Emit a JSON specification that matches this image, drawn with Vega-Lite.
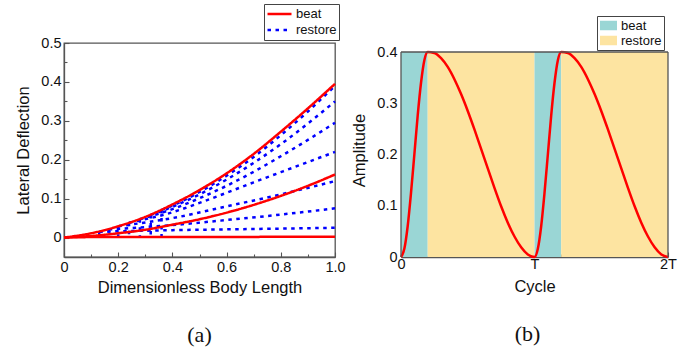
{
  "$schema": "https://vega.github.io/schema/vega-lite/v6.json",
  "background": "white",
  "padding": {"left": 15, "top": 2, "right": 5, "bottom": 5},
  "bounds": "flush",
  "spacing": 66,
  "resolve": {"scale": {"color": "independent", "strokeDash": "independent"}, "legend": {"color": "independent", "strokeDash": "independent"}},
  "config": {
    "font": "Liberation Sans",
    "view": {"stroke": "#555", "strokeWidth": 1.3},
    "axis": {"grid": false, "domainColor": "#555", "domainWidth": 1.3, "tickColor": "#555", "tickWidth": 1.1, "labelColor": "#111", "titleColor": "#111", "labelFontSize": 14.5, "titleFontSize": 16.5, "titleFontWeight": "normal", "labelFlush": false, "labelOverlap": false},
    "title": {"font": "Liberation Serif", "fontSize": 22, "fontWeight": "normal", "color": "#111"}
  },
  "hconcat": [
    {
      "width": 271,
      "height": 214,
      "title": {"text": "(a)", "orient": "bottom", "offset": 29},
      "layer": [
        {
          "data": {"values": [
            {"s": 0.13, "T": 0.015}, {"s": 0.165, "T": 0.021}, {"s": 0.2, "T": 0.029}, {"s": 0.24, "T": 0.038},
            {"s": 0.28, "T": 0.047}, {"s": 0.32, "T": 0.058}, {"s": 0.36, "T": 0.071}
          ]},
          "mark": {"type": "rule", "color": "#0000ff", "strokeWidth": 2.5, "strokeDash": [3.5, 4.5]},
          "encoding": {
            "x": {"field": "s", "type": "quantitative", "axis": null},
            "y": {"field": "T", "type": "quantitative", "axis": null},
            "y2": {"datum": 0}
          }
        },
        {
          "data": {"values": [
            {"id": 1, "type": "restore", "x": 0.13, "y": 0.015}, {"id": 1, "type": "restore", "x": 0.4, "y": 0.019}, {"id": 1, "type": "restore", "x": 0.6, "y": 0.021}, {"id": 1, "type": "restore", "x": 0.8, "y": 0.023}, {"id": 1, "type": "restore", "x": 1.0, "y": 0.025},
            {"id": 2, "type": "restore", "x": 0.165, "y": 0.021}, {"id": 2, "type": "restore", "x": 0.4, "y": 0.032}, {"id": 2, "type": "restore", "x": 0.6, "y": 0.045}, {"id": 2, "type": "restore", "x": 0.8, "y": 0.059}, {"id": 2, "type": "restore", "x": 1.0, "y": 0.075},
            {"id": 3, "type": "restore", "x": 0.2, "y": 0.029}, {"id": 3, "type": "restore", "x": 0.4, "y": 0.05}, {"id": 3, "type": "restore", "x": 0.6, "y": 0.08}, {"id": 3, "type": "restore", "x": 0.8, "y": 0.111}, {"id": 3, "type": "restore", "x": 1.0, "y": 0.145},
            {"id": 4, "type": "restore", "x": 0.24, "y": 0.038}, {"id": 4, "type": "restore", "x": 0.4, "y": 0.065}, {"id": 4, "type": "restore", "x": 0.5, "y": 0.089}, {"id": 4, "type": "restore", "x": 0.6, "y": 0.115}, {"id": 4, "type": "restore", "x": 0.7, "y": 0.142}, {"id": 4, "type": "restore", "x": 0.8, "y": 0.168}, {"id": 4, "type": "restore", "x": 0.9, "y": 0.194}, {"id": 4, "type": "restore", "x": 1.0, "y": 0.22},
            {"id": 5, "type": "restore", "x": 0.28, "y": 0.047}, {"id": 5, "type": "restore", "x": 0.4, "y": 0.073}, {"id": 5, "type": "restore", "x": 0.5, "y": 0.101}, {"id": 5, "type": "restore", "x": 0.6, "y": 0.133}, {"id": 5, "type": "restore", "x": 0.7, "y": 0.169}, {"id": 5, "type": "restore", "x": 0.8, "y": 0.209}, {"id": 5, "type": "restore", "x": 0.9, "y": 0.251}, {"id": 5, "type": "restore", "x": 1.0, "y": 0.295},
            {"id": 6, "type": "restore", "x": 0.32, "y": 0.058}, {"id": 6, "type": "restore", "x": 0.4, "y": 0.079}, {"id": 6, "type": "restore", "x": 0.5, "y": 0.111}, {"id": 6, "type": "restore", "x": 0.6, "y": 0.149}, {"id": 6, "type": "restore", "x": 0.7, "y": 0.192}, {"id": 6, "type": "restore", "x": 0.8, "y": 0.24}, {"id": 6, "type": "restore", "x": 0.9, "y": 0.293}, {"id": 6, "type": "restore", "x": 1.0, "y": 0.35},
            {"id": 7, "type": "restore", "x": 0.36, "y": 0.071}, {"id": 7, "type": "restore", "x": 0.4, "y": 0.082}, {"id": 7, "type": "restore", "x": 0.5, "y": 0.117}, {"id": 7, "type": "restore", "x": 0.6, "y": 0.159}, {"id": 7, "type": "restore", "x": 0.7, "y": 0.207}, {"id": 7, "type": "restore", "x": 0.8, "y": 0.263}, {"id": 7, "type": "restore", "x": 0.9, "y": 0.324}, {"id": 7, "type": "restore", "x": 1.0, "y": 0.39}
          ]},
          "mark": {"type": "line", "interpolate": "monotone", "strokeWidth": 2.5},
          "encoding": {
            "x": {"field": "x", "type": "quantitative", "scale": {"domain": [0, 1], "nice": false},
              "axis": {"orient": "bottom", "values": [0, 0.2, 0.4, 0.6, 0.8, 1], "labelExpr": "datum.value == 0 ? '0' : format(datum.value, '.1f')", "tickSize": -5, "labelPadding": 8, "title": "Dimensionless Body Length", "titlePadding": 6}},
            "y": {"field": "y", "type": "quantitative", "scale": {"domain": [-0.05, 0.5], "nice": false},
              "axis": {"orient": "left", "values": [0, 0.1, 0.2, 0.3, 0.4, 0.5], "labelExpr": "datum.value == 0 ? '0' : format(datum.value, '.1f')", "tickSize": -5, "labelPadding": 8, "title": "Lateral Deflection", "titlePadding": 9}},
            "detail": {"field": "id"},
            "color": {"field": "type", "type": "nominal", "scale": {"domain": ["beat", "restore"], "range": ["#ff0000", "#0000ff"]},
              "legend": {"title": null, "orient": "none", "legendX": 200, "legendY": -39, "strokeColor": "#444", "fillColor": "white", "padding": 2, "labelFontSize": 13, "labelColor": "#111", "symbolSize": 576, "symbolStrokeWidth": 2.5, "labelOffset": 3, "rowPadding": 0, "clipHeight": 16}},
            "strokeDash": {"field": "type", "type": "nominal", "scale": {"domain": ["beat", "restore"], "range": [[1, 0], [3.5, 4.5]]},
              "legend": {"title": null, "orient": "none", "legendX": 200, "legendY": -39, "strokeColor": "#444", "fillColor": "white", "padding": 2, "labelFontSize": 13, "labelColor": "#111", "symbolSize": 576, "symbolStrokeWidth": 2.5, "labelOffset": 3, "rowPadding": 0, "clipHeight": 16}}
          }
        },
        {
          "data": {"values": [
            {"id": "b1", "type": "beat", "x": 0, "y": 0}, {"id": "b1", "type": "beat", "x": 0.1, "y": 0.011}, {"id": "b1", "type": "beat", "x": 0.2, "y": 0.029}, {"id": "b1", "type": "beat", "x": 0.3, "y": 0.053}, {"id": "b1", "type": "beat", "x": 0.4, "y": 0.085}, {"id": "b1", "type": "beat", "x": 0.5, "y": 0.122}, {"id": "b1", "type": "beat", "x": 0.6, "y": 0.165}, {"id": "b1", "type": "beat", "x": 0.7, "y": 0.215}, {"id": "b1", "type": "beat", "x": 0.8, "y": 0.272}, {"id": "b1", "type": "beat", "x": 0.9, "y": 0.332}, {"id": "b1", "type": "beat", "x": 1.0, "y": 0.395},
            {"id": "b2", "type": "beat", "x": 0, "y": 0}, {"id": "b2", "type": "beat", "x": 0.1, "y": 0.004}, {"id": "b2", "type": "beat", "x": 0.2, "y": 0.011}, {"id": "b2", "type": "beat", "x": 0.3, "y": 0.02}, {"id": "b2", "type": "beat", "x": 0.4, "y": 0.033}, {"id": "b2", "type": "beat", "x": 0.5, "y": 0.047}, {"id": "b2", "type": "beat", "x": 0.6, "y": 0.064}, {"id": "b2", "type": "beat", "x": 0.7, "y": 0.084}, {"id": "b2", "type": "beat", "x": 0.8, "y": 0.107}, {"id": "b2", "type": "beat", "x": 0.9, "y": 0.133}, {"id": "b2", "type": "beat", "x": 1.0, "y": 0.162},
            {"id": "b3", "type": "beat", "x": 0, "y": 0.001}, {"id": "b3", "type": "beat", "x": 0.5, "y": 0.0015}, {"id": "b3", "type": "beat", "x": 1.0, "y": 0.002}
          ]},
          "mark": {"type": "line", "interpolate": "monotone", "strokeWidth": 2.5},
          "encoding": {
            "x": {"field": "x", "type": "quantitative", "axis": {"orient": "bottom", "values": [0.1, 0.3, 0.5, 0.7, 0.9], "labels": false, "domain": false, "tickSize": -3, "title": null}},
            "y": {"field": "y", "type": "quantitative", "axis": {"orient": "left", "values": [0.05, 0.15, 0.25, 0.35, 0.45], "labels": false, "domain": false, "tickSize": -3, "title": null}},
            "detail": {"field": "id"},
            "color": {"field": "type", "type": "nominal", "scale": {"domain": ["beat", "restore"], "range": ["#ff0000", "#0000ff"]},
              "legend": {"title": null, "orient": "none", "legendX": 200, "legendY": -39, "strokeColor": "#444", "fillColor": "white", "padding": 2, "labelFontSize": 13, "labelColor": "#111", "symbolSize": 576, "symbolStrokeWidth": 2.5, "labelOffset": 3, "rowPadding": 0, "clipHeight": 16}},
            "strokeDash": {"field": "type", "type": "nominal", "scale": {"domain": ["beat", "restore"], "range": [[1, 0], [3.5, 4.5]]},
              "legend": {"title": null, "orient": "none", "legendX": 200, "legendY": -39, "strokeColor": "#444", "fillColor": "white", "padding": 2, "labelFontSize": 13, "labelColor": "#111", "symbolSize": 576, "symbolStrokeWidth": 2.5, "labelOffset": 3, "rowPadding": 0, "clipHeight": 16}}
          }
        }
      ],
      "resolve": {"axis": {"x": "independent", "y": "independent"}}
    },
    {
      "width": 267,
      "height": 214,
      "view": {"stroke": null},
      "title": {"text": "(b)", "orient": "bottom", "offset": 29, "dx": -7},
      "layer": [
        {
          "data": {"values": [
            {"phase": "beat", "start": 0, "end": 0.2}, {"phase": "restore", "start": 0.2, "end": 1},
            {"phase": "beat", "start": 1, "end": 1.2}, {"phase": "restore", "start": 1.2, "end": 2}
          ]},
          "mark": {"type": "rect"},
          "encoding": {
            "x": {"field": "start", "type": "quantitative", "scale": {"domain": [0, 2], "nice": false},
              "axis": {"orient": "bottom", "values": [0, 1, 2], "labelExpr": "datum.value == 0 ? '0' : (datum.value == 1 ? 'T' : '2T')", "tickSize": -5, "labelPadding": 5, "title": "Cycle", "titlePadding": 8}},
            "x2": {"field": "end"},
            "y": {"datum": 0, "type": "quantitative", "axis": null},
            "y2": {"datum": 0.4},
            "color": {"field": "phase", "type": "nominal", "scale": {"domain": ["beat", "restore"], "range": ["#9AD6D5", "#FDE4A1"]},
              "legend": {"title": null, "orient": "none", "legendX": 196, "legendY": -27, "strokeColor": "#444", "fillColor": "white", "padding": 2, "labelFontSize": 13, "labelColor": "#111", "symbolType": "M-1,-0.55H1V0.55H-1Z", "symbolSize": 289, "labelOffset": 3, "rowPadding": 0, "clipHeight": 15}}
          }
        },
        {
          "data": {"values": [
            {"t": 0, "a": 0}, {"t": 0.025, "a": 0.016}, {"t": 0.05, "a": 0.06}, {"t": 0.075, "a": 0.125}, {"t": 0.1, "a": 0.2}, {"t": 0.125, "a": 0.276}, {"t": 0.15, "a": 0.34}, {"t": 0.175, "a": 0.384}, {"t": 0.2, "a": 0.4},
            {"t": 0.25, "a": 0.398}, {"t": 0.3, "a": 0.388}, {"t": 0.35, "a": 0.371}, {"t": 0.4, "a": 0.347}, {"t": 0.45, "a": 0.318}, {"t": 0.5, "a": 0.285}, {"t": 0.55, "a": 0.249}, {"t": 0.6, "a": 0.211}, {"t": 0.65, "a": 0.173}, {"t": 0.7, "a": 0.135}, {"t": 0.75, "a": 0.099}, {"t": 0.8, "a": 0.067}, {"t": 0.85, "a": 0.04}, {"t": 0.9, "a": 0.019}, {"t": 0.95, "a": 0.005}, {"t": 1.0, "a": 0},
            {"t": 1.025, "a": 0.016}, {"t": 1.05, "a": 0.06}, {"t": 1.075, "a": 0.125}, {"t": 1.1, "a": 0.2}, {"t": 1.125, "a": 0.276}, {"t": 1.15, "a": 0.34}, {"t": 1.175, "a": 0.384}, {"t": 1.2, "a": 0.4},
            {"t": 1.25, "a": 0.398}, {"t": 1.3, "a": 0.388}, {"t": 1.35, "a": 0.371}, {"t": 1.4, "a": 0.347}, {"t": 1.45, "a": 0.318}, {"t": 1.5, "a": 0.285}, {"t": 1.55, "a": 0.249}, {"t": 1.6, "a": 0.211}, {"t": 1.65, "a": 0.173}, {"t": 1.7, "a": 0.135}, {"t": 1.75, "a": 0.099}, {"t": 1.8, "a": 0.067}, {"t": 1.85, "a": 0.04}, {"t": 1.9, "a": 0.019}, {"t": 1.95, "a": 0.005}, {"t": 2.0, "a": 0}
          ]},
          "mark": {"type": "line", "interpolate": "monotone", "color": "#ff0000", "strokeWidth": 2.5},
          "encoding": {
            "x": {"field": "t", "type": "quantitative", "axis": {"orient": "bottom", "values": [0.2, 0.4, 0.6, 0.8, 1.2, 1.4, 1.6, 1.8], "labels": false, "domain": false, "tickSize": -3, "title": null}},
            "y": {"field": "a", "type": "quantitative", "scale": {"domain": [0, 0.4176], "nice": false},
              "axis": {"orient": "left", "values": [0, 0.1, 0.2, 0.3, 0.4], "labelExpr": "datum.value == 0 ? '0' : format(datum.value, '.1f')", "tickSize": -5, "labelPadding": 9, "domain": false, "title": "Amplitude", "titlePadding": 9}}
          }
        },
        {
          "data": {"values": [{}]},
          "mark": {"type": "rule", "color": "#555", "strokeWidth": 1.3},
          "encoding": {"x": {"datum": 0, "type": "quantitative", "axis": null}, "y": {"datum": 0, "type": "quantitative", "axis": null}, "y2": {"datum": 0.4}}
        },
        {
          "data": {"values": [{}]},
          "mark": {"type": "rule", "color": "#555", "strokeWidth": 1.3},
          "encoding": {"x": {"datum": 2, "type": "quantitative", "axis": null}, "y": {"datum": 0, "type": "quantitative", "axis": null}, "y2": {"datum": 0.4}}
        },
        {
          "data": {"values": [{}]},
          "mark": {"type": "rule", "color": "#555", "strokeWidth": 1.3},
          "encoding": {"x": {"datum": 0, "type": "quantitative", "axis": null}, "x2": {"datum": 2}, "y": {"datum": 0.4, "type": "quantitative", "axis": null}}
        },
        {
          "data": {"values": [{}]},
          "mark": {"type": "point", "opacity": 0},
          "encoding": {
            "x": {"datum": 1, "type": "quantitative", "axis": null},
            "y": {"datum": 0.2, "type": "quantitative", "axis": {"orient": "left", "values": [0.05, 0.15, 0.25, 0.35], "labels": false, "domain": false, "tickSize": -3, "title": null}}
          }
        }
      ],
      "resolve": {"axis": {"x": "independent", "y": "independent"}}
    }
  ]
}
